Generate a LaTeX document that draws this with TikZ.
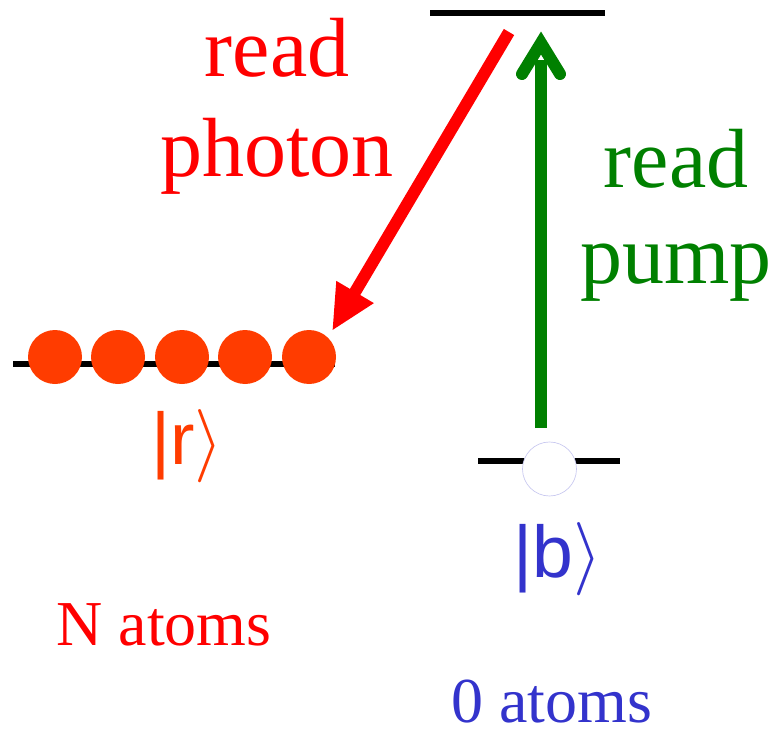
\documentclass[tikz,border=0pt]{standalone}
\usepackage{fix-cm}
\usepackage{fontspec}
\setmainfont{Liberation Serif}
\newfontfamily\ketfont{Liberation Sans}
\usetikzlibrary{arrows.meta}
\definecolor{photonred}{RGB}{255,0,0}
\definecolor{pumpgreen}{RGB}{0,128,0}
\definecolor{atomorange}{RGB}{255,60,0}
\definecolor{ketblue}{RGB}{51,51,204}
\definecolor{ringblue}{RGB}{200,200,240}
\tikzset{
  level/.style={line width=4.5pt, black},
  atom/.style={circle, fill=atomorange, inner sep=0pt, minimum size=40.5pt},
  emptyatom/.style={circle, fill=white, draw=ringblue, line width=0.5pt, inner sep=0pt, minimum size=40.5pt},
  bigtext/.style={anchor=base, inner sep=0pt, font=\fontsize{63}{70}\selectfont},
  smalltext/.style={anchor=base, inner sep=0pt, font=\fontsize{48}{54}\selectfont},
  kettext/.style={anchor=base, inner sep=0pt, font=\fontsize{55}{60}\selectfont},
}
\begin{document}
\begin{tikzpicture}[x=0.75pt,y=-0.75pt]
\useasboundingbox (0,0) rectangle (778,731);
% levels
\coordinate (topL) at (430,13);
\coordinate (topR) at (605,13);
\coordinate (rL) at (13,364);
\coordinate (rR) at (335,364);
\coordinate (bL) at (478,461);
\coordinate (bR) at (620,461);
\draw[level] (topL) -- (topR);
\draw[level] (rL) -- (rR);
\draw[level] (bL) -- (bR);
% atoms
\node[atom] (a1) at (55,357) {};
\node[atom] (a2) at (118,357) {};
\node[atom] (a3) at (182,357) {};
\node[atom] (a4) at (245,357) {};
\node[atom] (a5) at (309,357) {};
\node[emptyatom] (b0) at (549.5,469) {};
% arrows
\coordinate (pumpStart) at (541,428);
\coordinate (pumpTip) at (541,43);
\coordinate (barbL) at (522,74);
\coordinate (barbR) at (560,74);
\draw[pumpgreen, line width=9pt] (pumpStart) -- (541,60);
\draw[pumpgreen, line width=9pt, line cap=round, line join=miter] (barbL) -- (pumpTip) -- (barbR);
\coordinate (photonStart) at (509,32);
\coordinate (photonTip) at (332,331);
\draw[photonred, line width=9pt, -{Triangle[length=34pt,width=30pt]}] (photonStart) -- (photonTip);
% labels
\node[bigtext, text=photonred] (t1) at (277,77) {read};
\node[bigtext, text=photonred] (t2) at (277,177) {photon};
\node[bigtext, text=pumpgreen] (t3) at (676,188) {read};
\node[bigtext, text=pumpgreen] (t4) at (676,283) {pump};
\node[kettext, text=atomorange] (kr) at (187,464) {\ketfont|r$\rangle$};
\node[kettext, text=ketblue] (kb) at (558,577) {\ketfont|b$\rangle$};
\node[smalltext, text=photonred] (na) at (164,645) {N atoms};
\node[smalltext, text=ketblue] (za) at (552,722) {0 atoms};
\end{tikzpicture}
\end{document}
